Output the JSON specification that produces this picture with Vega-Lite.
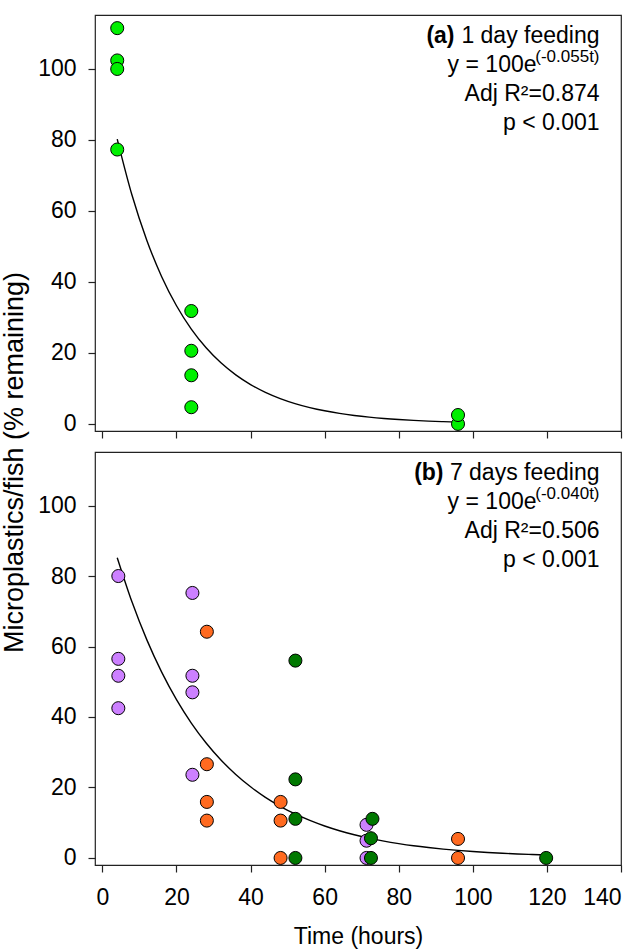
{
  "$schema": "https://vega.github.io/schema/vega-lite/v6.json",
  "padding": {"left": 0, "top": 14, "right": 2, "bottom": 2},
  "spacing": 21,
  "bounds": "flush",
  "config": {
    "font": "Liberation Sans",
    "view": {"stroke": "#222222", "strokeWidth": 1.2},
    "axis": {
      "domain": false, "grid": false,
      "tickColor": "#222222", "tickSize": 7, "tickWidth": 1.2,
      "labelFont": "Liberation Sans", "labelFontSize": 23, "labelColor": "black",
      "titleFont": "Liberation Sans", "titleFontSize": 23, "titleFontWeight": "normal", "titleColor": "black",
      "minExtent": 0
    },
    "text": {"font": "Liberation Sans", "color": "black"}
  },
  "datasets": {
    "curveA": [
      {"t": 4, "y": 80.25}, {"t": 8, "y": 64.40}, {"t": 12, "y": 51.69}, {"t": 16, "y": 41.48},
      {"t": 20, "y": 33.29}, {"t": 24, "y": 26.71}, {"t": 28, "y": 21.44}, {"t": 32, "y": 17.20},
      {"t": 36, "y": 13.81}, {"t": 40, "y": 11.08}, {"t": 44, "y": 8.89}, {"t": 48, "y": 7.14},
      {"t": 52, "y": 5.73}, {"t": 56, "y": 4.60}, {"t": 60, "y": 3.69}, {"t": 64, "y": 2.96},
      {"t": 68, "y": 2.38}, {"t": 72, "y": 1.91}, {"t": 76, "y": 1.53}, {"t": 80, "y": 1.23},
      {"t": 84, "y": 0.99}, {"t": 88, "y": 0.79}, {"t": 92, "y": 0.64}, {"t": 96, "y": 0.51}
    ],
    "curveB": [
      {"t": 4, "y": 85.21}, {"t": 8, "y": 72.61}, {"t": 12, "y": 61.88}, {"t": 16, "y": 52.73},
      {"t": 20, "y": 44.93}, {"t": 24, "y": 38.29}, {"t": 28, "y": 32.63}, {"t": 32, "y": 27.80},
      {"t": 36, "y": 23.69}, {"t": 40, "y": 20.19}, {"t": 44, "y": 17.20}, {"t": 48, "y": 14.66},
      {"t": 52, "y": 12.49}, {"t": 56, "y": 10.65}, {"t": 60, "y": 9.07}, {"t": 64, "y": 7.73},
      {"t": 68, "y": 6.59}, {"t": 72, "y": 5.61}, {"t": 76, "y": 4.78}, {"t": 80, "y": 4.08},
      {"t": 84, "y": 3.47}, {"t": 88, "y": 2.96}, {"t": 92, "y": 2.52}, {"t": 96, "y": 2.15},
      {"t": 100, "y": 1.83}, {"t": 104, "y": 1.56}, {"t": 108, "y": 1.33}, {"t": 112, "y": 1.13},
      {"t": 116, "y": 0.97}, {"t": 120, "y": 0.82}
    ],
    "pointsA": [
      {"t": 4, "y": 111.5, "group": "A"}, {"t": 4, "y": 102.4, "group": "A"},
      {"t": 4, "y": 100.0, "group": "A"}, {"t": 4, "y": 77.3, "group": "A"},
      {"t": 24, "y": 31.8, "group": "A"}, {"t": 24, "y": 20.6, "group": "A"},
      {"t": 24, "y": 13.7, "group": "A"}, {"t": 24, "y": 4.7, "group": "A"},
      {"t": 96, "y": 0.0, "group": "A"}, {"t": 96, "y": 2.5, "group": "A"}
    ],
    "pointsB": [
      {"t": 4.3, "y": 80.0, "group": "P"}, {"t": 4.3, "y": 56.5, "group": "P"},
      {"t": 4.3, "y": 51.7, "group": "P"}, {"t": 4.3, "y": 42.5, "group": "P"},
      {"t": 24.3, "y": 75.2, "group": "P"}, {"t": 24.3, "y": 51.7, "group": "P"},
      {"t": 24.3, "y": 47.0, "group": "P"}, {"t": 24.3, "y": 23.6, "group": "P"},
      {"t": 71.3, "y": 9.4, "group": "P"}, {"t": 71.3, "y": 4.9, "group": "P"},
      {"t": 71.3, "y": 0.0, "group": "P"},
      {"t": 28.2, "y": 64.2, "group": "O"}, {"t": 28.2, "y": 26.6, "group": "O"},
      {"t": 28.2, "y": 15.9, "group": "O"}, {"t": 28.2, "y": 10.6, "group": "O"},
      {"t": 48.1, "y": 15.9, "group": "O"}, {"t": 48.1, "y": 10.6, "group": "O"},
      {"t": 48.1, "y": 0.0, "group": "O"},
      {"t": 96, "y": 5.4, "group": "O"}, {"t": 96, "y": 0.0, "group": "O"},
      {"t": 52.1, "y": 56.0, "group": "G"}, {"t": 52.1, "y": 22.3, "group": "G"},
      {"t": 52.1, "y": 11.1, "group": "G"}, {"t": 52.1, "y": 0.0, "group": "G"},
      {"t": 72.9, "y": 11.1, "group": "G"}, {"t": 72.5, "y": 5.6, "group": "G"},
      {"t": 72.5, "y": 0.0, "group": "G"},
      {"t": 119.8, "y": 0.0, "group": "G"}
    ],
    "textA": [
      {"t": 134.2, "y": 107.2, "label": "1 day feeding"},
      {"t": 134.2, "y": 90.9, "label": "Adj R²=0.874"},
      {"t": 134.2, "y": 82.7, "label": "p < 0.001"}
    ],
    "textB": [
      {"t": 134.2, "y": 107.2, "label": "7 days feeding"},
      {"t": 134.2, "y": 90.9, "label": "Adj R²=0.506"},
      {"t": 134.2, "y": 82.7, "label": "p < 0.001"}
    ],
    "boldA": [{"t": 134.2, "y": 107.2, "label": "(a)"}],
    "boldB": [{"t": 134.2, "y": 107.2, "label": "(b)"}],
    "eqA": [{"t": 134.2, "y": 99.1, "label": "y = 100e"}],
    "eqB": [{"t": 134.2, "y": 99.1, "label": "y = 100e"}],
    "supA": [{"t": 134.2, "y": 99.1, "label": "(-0.055t)"}],
    "supB": [{"t": 134.2, "y": 99.1, "label": "(-0.040t)"}]
  },
  "vconcat": [
    {
      "width": 526,
      "height": 416,
      "encoding": {
        "x": {"field": "t", "type": "quantitative",
              "scale": {"domain": [-2, 140], "nice": false, "zero": false},
              "axis": {"values": [0, 20, 40, 60, 80, 100, 120, 140], "labels": false, "title": null}},
        "y": {"field": "y", "type": "quantitative",
              "scale": {"domain": [-2, 115.2], "nice": false, "zero": false},
              "axis": {"values": [0, 20, 40, 60, 80, 100], "labelPadding": 12, "title": null}}
      },
      "layer": [
        {"data": {"name": "curveA"}, "mark": {"type": "line", "color": "black", "strokeWidth": 1.4, "interpolate": "monotone"}},
        {"data": {"name": "pointsA"}, "mark": {"type": "circle", "size": 170, "opacity": 1, "stroke": "black", "strokeWidth": 1},
         "encoding": {"color": {"field": "group", "type": "nominal", "scale": {"domain": ["A", "P", "O", "G"], "range": ["#00f000", "#cc80ff", "#ff6a20", "#007800"]}, "legend": null}}},
        {"data": {"name": "textA"}, "mark": {"type": "text", "align": "right", "baseline": "alphabetic", "fontSize": 23}, "encoding": {"text": {"field": "label"}}},
        {"data": {"name": "boldA"}, "mark": {"type": "text", "align": "right", "baseline": "alphabetic", "fontSize": 23, "fontWeight": "bold", "dx": -145}, "encoding": {"text": {"field": "label"}}},
        {"data": {"name": "eqA"}, "mark": {"type": "text", "align": "right", "baseline": "alphabetic", "fontSize": 23, "dx": -63}, "encoding": {"text": {"field": "label"}}},
        {"data": {"name": "supA"}, "mark": {"type": "text", "align": "right", "baseline": "alphabetic", "fontSize": 17, "dy": -10}, "encoding": {"text": {"field": "label"}}}
      ]
    },
    {
      "width": 526,
      "height": 413,
      "encoding": {
        "x": {"field": "t", "type": "quantitative",
              "scale": {"domain": [-2, 140], "nice": false, "zero": false},
              "axis": {"values": [0, 20, 40, 60, 80, 100, 120, 140], "labelPadding": 14, "title": "Time (hours)", "titlePadding": 16}},
        "y": {"field": "y", "type": "quantitative",
              "scale": {"domain": [-2, 115.2], "nice": false, "zero": false},
              "axis": {"values": [0, 20, 40, 60, 80, 100], "labelPadding": 12, "title": "Microplastics/fish (% remaining)", "titleFontSize": 27, "titleY": 10, "titlePadding": 9}}
      },
      "layer": [
        {"data": {"name": "curveB"}, "mark": {"type": "line", "color": "black", "strokeWidth": 1.4, "interpolate": "monotone"}},
        {"data": {"name": "pointsB"}, "mark": {"type": "circle", "size": 170, "opacity": 1, "stroke": "black", "strokeWidth": 1},
         "encoding": {"color": {"field": "group", "type": "nominal", "scale": {"domain": ["A", "P", "O", "G"], "range": ["#00f000", "#cc80ff", "#ff6a20", "#007800"]}, "legend": null}}},
        {"data": {"name": "textB"}, "mark": {"type": "text", "align": "right", "baseline": "alphabetic", "fontSize": 23}, "encoding": {"text": {"field": "label"}}},
        {"data": {"name": "boldB"}, "mark": {"type": "text", "align": "right", "baseline": "alphabetic", "fontSize": 23, "fontWeight": "bold", "dx": -156}, "encoding": {"text": {"field": "label"}}},
        {"data": {"name": "eqB"}, "mark": {"type": "text", "align": "right", "baseline": "alphabetic", "fontSize": 23, "dx": -63}, "encoding": {"text": {"field": "label"}}},
        {"data": {"name": "supB"}, "mark": {"type": "text", "align": "right", "baseline": "alphabetic", "fontSize": 17, "dy": -10}, "encoding": {"text": {"field": "label"}}}
      ]
    }
  ]
}
